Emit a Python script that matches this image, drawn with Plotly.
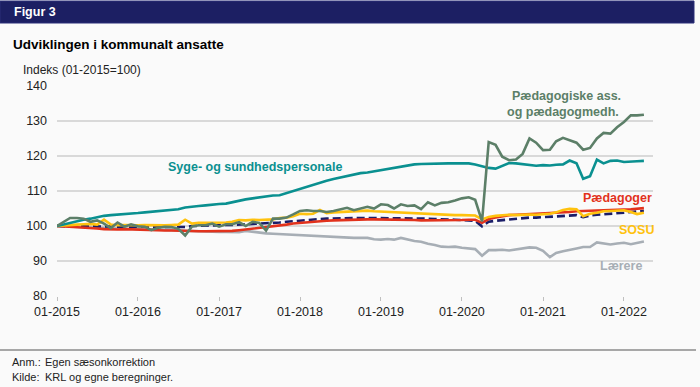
import pandas as pd
import plotly.graph_objects as go

months = pd.date_range("2015-01-01", periods=88, freq="MS")

syge = [100,100.5,101.0,101.4,101.8,102.1,102.5,102.9,103.1,103.3,103.4,103.5,
        103.7,103.9,104.1,104.3,104.4,104.6,104.8,105.3,105.6,105.7,105.9,106.2,
        106.3,106.4,106.8,107.3,107.6,107.9,108.2,108.6,108.7,108.8,109.4,110.1,
        110.8,111.4,111.9,112.5,112.9,113.4,113.8,114.3,114.7,115.1,115.3,115.6,
        116.0,116.3,116.7,117.0,117.3,117.6,117.7,117.8,117.7,117.9,117.9,117.9,
        118.0,117.9,117.6,117.0,116.6,116.4,117.3,118.0,117.9,117.7,117.4,117.2,
        117.4,117.3,117.5,117.6,118.7,117.9,113.5,114.2,119.0,117.9,118.6,118.7,
        118.3,118.5,118.5,118.6]

paed_ass = [100,101.2,102.3,102.3,102.1,101.2,101.6,100.7,99.4,101.0,99.8,100.5,
            99.9,99.8,98.8,99.5,99.8,99.7,99.2,97.3,99.9,100.2,100.2,100.7,
            99.8,100.5,100.5,101.1,100.0,101.2,100.9,98.7,102.1,102.1,102.4,103.3,
            104.3,104.5,104.3,104.3,104.0,104.3,104.7,105.2,104.5,105.0,105.5,105.0,
            106.2,106.0,105.0,106.2,105.7,105.9,104.8,106.8,105.9,106.6,106.8,107.3,
            107.9,108.2,107.5,101.3,124.0,123.2,119.8,118.8,119.0,120.6,125.0,123.8,
            121.7,121.8,124.2,125.2,124.6,123.8,121.8,122.3,125.0,126.6,126.4,128.2,
            129.7,131.6,131.6,131.8]

paedagoger = [100,99.9,99.9,99.8,99.7,99.6,99.3,99.1,99.0,99.0,99.1,99.0,
              99.0,98.9,98.8,98.8,98.7,98.7,98.6,98.6,98.5,98.5,98.5,98.5,
              98.5,98.6,98.6,98.8,99.0,99.2,99.4,99.6,99.8,100.1,100.4,100.7,
              100.9,101.1,101.3,101.4,101.5,101.6,101.7,101.8,101.9,101.9,101.9,101.9,
              101.9,101.9,101.9,101.8,101.8,101.7,101.6,101.6,101.5,101.5,101.5,101.6,
              101.7,101.8,101.8,100.9,102.0,102.4,102.8,103.1,103.2,103.3,103.4,103.4,
              103.5,103.5,103.6,103.8,104.0,104.2,104.3,104.4,104.5,104.5,104.6,104.6,
              104.7,104.8,105.0,105.1]

sosu = [100,100.2,100.3,100.4,100.5,100.6,100.4,101.8,100.4,100.2,100.3,100.2,
        100.2,100.3,100.2,100.3,100.2,100.3,100.4,101.8,100.7,100.9,100.9,101.0,
        100.9,101.0,101.2,101.7,101.6,101.8,101.7,101.8,101.9,102.3,102.4,102.8,
        103.5,103.4,103.5,104.6,103.7,103.9,104.0,104.0,104.2,104.1,104.4,104.2,
        104.1,103.9,104.0,103.8,103.7,103.6,103.5,103.5,103.3,103.2,103.2,103.1,
        103.1,103.0,103.0,101.9,102.6,102.9,103.1,103.2,103.1,103.3,103.3,103.2,
        103.4,103.5,103.9,104.6,104.9,104.8,102.8,103.5,103.8,104.2,104.3,104.4,
        104.5,104.0,103.4,103.8]

laerere = [100,99.9,99.8,99.7,99.6,99.5,99.4,99.4,99.3,99.3,99.2,99.2,
           99.2,99.1,99.0,99.0,98.9,98.8,98.8,98.7,98.6,98.5,98.4,98.4,
           98.3,98.3,98.3,98.2,98.6,98.3,98.1,97.9,97.8,97.7,97.5,97.3,
           97.2,97.1,97.0,97.0,96.9,96.9,96.7,96.6,96.6,96.6,96.6,96.2,
           96.1,96.3,96.1,96.6,96.1,95.7,95.5,94.9,94.6,94.1,94.0,94.1,
           93.8,93.6,93.4,91.5,93.1,93.1,93.2,93.0,93.3,93.6,93.9,93.8,
           92.9,91.1,92.3,92.8,93.3,93.6,94.0,94.0,95.3,95.0,94.7,95.0,
           95.2,94.8,95.2,95.6]

total = [100,99.9,99.9,99.9,99.9,99.9,99.9,99.9,99.8,99.8,99.8,99.8,
         99.8,99.8,99.8,99.7,99.7,99.7,99.7,99.7,100.0,100.1,100.2,100.2,
         100.3,100.3,100.3,100.4,100.5,100.6,100.6,100.6,100.8,101.0,101.2,101.4,
         101.6,101.8,101.9,102.0,102.1,102.2,102.3,102.3,102.3,102.3,102.3,102.3,
         102.3,102.3,102.3,102.2,102.2,102.2,102.1,102.1,102.0,102.0,101.9,101.8,
         101.7,101.6,101.5,99.9,101.2,101.5,101.7,101.8,102.0,102.2,102.4,102.4,
         102.5,102.6,102.8,102.9,103.0,103.1,102.5,103.0,103.2,103.4,103.5,103.6,
         103.8,104.0,104.2,104.3]

tick_dates = ["2015-01-01", "2016-01-01", "2017-01-01", "2018-01-01",
              "2019-01-01", "2020-01-01", "2021-01-01", "2022-01-01"]
tick_labels = ["01-2015", "01-2016", "01-2017", "01-2018",
               "01-2019", "01-2020", "01-2021", "01-2022"]
y_ticks = [80, 90, 100, 110, 120, 130, 140]

C_TEAL = "#0A9090"
C_GREEN = "#5C7F68"
C_RED = "#E2321C"
C_YELLOW = "#FFC20E"
C_GREY = "#A7AEB5"
C_NAVY = "#1A1D68"

FONT = "Liberation Sans, Arial, sans-serif"

fig = go.Figure()
series = [
    (laerere, C_GREY, "solid", "Lærere"),
    (total, C_NAVY, "8px,4px", "I alt"),
    (paedagoger, C_RED, "solid", "Pædagoger"),
    (sosu, C_YELLOW, "solid", "SOSU"),
    (syge, C_TEAL, "solid", "Syge- og sundhedspersonale"),
    (paed_ass, C_GREEN, "solid", "Pædagogiske ass. og pædagogmedh."),
]
for vals, col, dash, name in series:
    fig.add_trace(go.Scatter(x=months, y=vals, mode="lines", name=name,
                             line=dict(color=col, width=2.6, dash=dash),
                             hoverinfo="skip"))

# plot area in pixels: x 57..653, y 86..296
def px(x):
    return (x - 57) / 596.0

def py(y):
    return (296 - y) / 210.0

annotations = [
    dict(text="<b>Figur 3</b>", x=px(12), y=py(12.5), color="#FFFFFF", size=12.5, xa="left"),
    dict(text="<b>Udviklingen i kommunalt ansatte</b>", x=px(11), y=py(44.5), color="#000000", size=13.5, xa="left"),
    dict(text="Indeks (01-2015=100)", x=px(21), y=py(69.5), color="#222222", size=12, xa="left"),
    dict(text="<b>Syge- og sundhedspersonale</b>", x=px(255), y=py(167), color=C_TEAL, size=12.5, xa="center"),
    dict(text="<b>Pædagogiske ass.</b>", x=px(566), y=py(96), color=C_GREEN, size=12.5, xa="center"),
    dict(text="<b>og pædagogmedh.</b>", x=px(563), y=py(111.5), color=C_GREEN, size=12.5, xa="center"),
    dict(text="<b>Pædagoger</b>", x=px(617), y=py(197.5), color=C_RED, size=12.5, xa="center"),
    dict(text="<b>SOSU</b>", x=px(636), y=py(229.5), color=C_YELLOW, size=12.5, xa="center"),
    dict(text="<b>Lærere</b>", x=px(621), y=py(266), color=C_GREY, size=12.5, xa="center"),
    dict(text="Anm.:", x=px(10), y=py(362), color="#222222", size=11, xa="left"),
    dict(text="Egen sæsonkorrektion", x=px(43), y=py(362), color="#222222", size=11, xa="left"),
    dict(text="Kilde:", x=px(10), y=py(377), color="#222222", size=11, xa="left"),
    dict(text="KRL og egne beregninger.", x=px(43), y=py(377), color="#222222", size=11, xa="left"),
]
for a in annotations:
    fig.add_annotation(text=a["text"], x=a["x"], y=a["y"], xref="paper", yref="paper",
                       xanchor=a["xa"], yanchor="middle", showarrow=False,
                       font=dict(family=FONT, size=a["size"], color=a["color"]))

# header band
fig.add_shape(type="rect", xref="paper", yref="paper",
              x0=px(0), x1=px(694), y0=py(23), y1=py(1),
              fillcolor="#1C1F63", line=dict(color="#2A2E78", width=1), layer="below")
# footer rule
fig.add_shape(type="line", xref="paper", yref="paper",
              x0=px(0), x1=px(696), y0=py(350), y1=py(350),
              line=dict(color="#555555", width=1))

fig.update_layout(
    width=700, height=387,
    margin=dict(l=57, r=47, t=86, b=91),
    paper_bgcolor="#FAFAFA", plot_bgcolor="#FAFAFA",
    showlegend=False,
    font=dict(family=FONT, size=13, color="#222222"),
    xaxis=dict(type="date", range=["2015-01-01", "2022-05-12"],
               tickvals=tick_dates, ticktext=tick_labels,
               showgrid=False, zeroline=False,
               showline=False, ticks="outside", ticklen=4,
               tickcolor="#BFBFBF", tickwidth=1,
               tickfont=dict(size=12.5, color="#222222")),
    yaxis=dict(range=[80, 140], tickvals=y_ticks, showgrid=True,
               gridcolor="#D9D9D9", gridwidth=1.5, zeroline=False,
               showline=False, ticks="", ticklabelstandoff=9,
               tickfont=dict(size=12.5, color="#222222")),
)

fig.write_html("out.html", config={"displayModeBar": False},
               post_script="document.body.style.margin='0';document.body.style.background='#FAFAFA';")
